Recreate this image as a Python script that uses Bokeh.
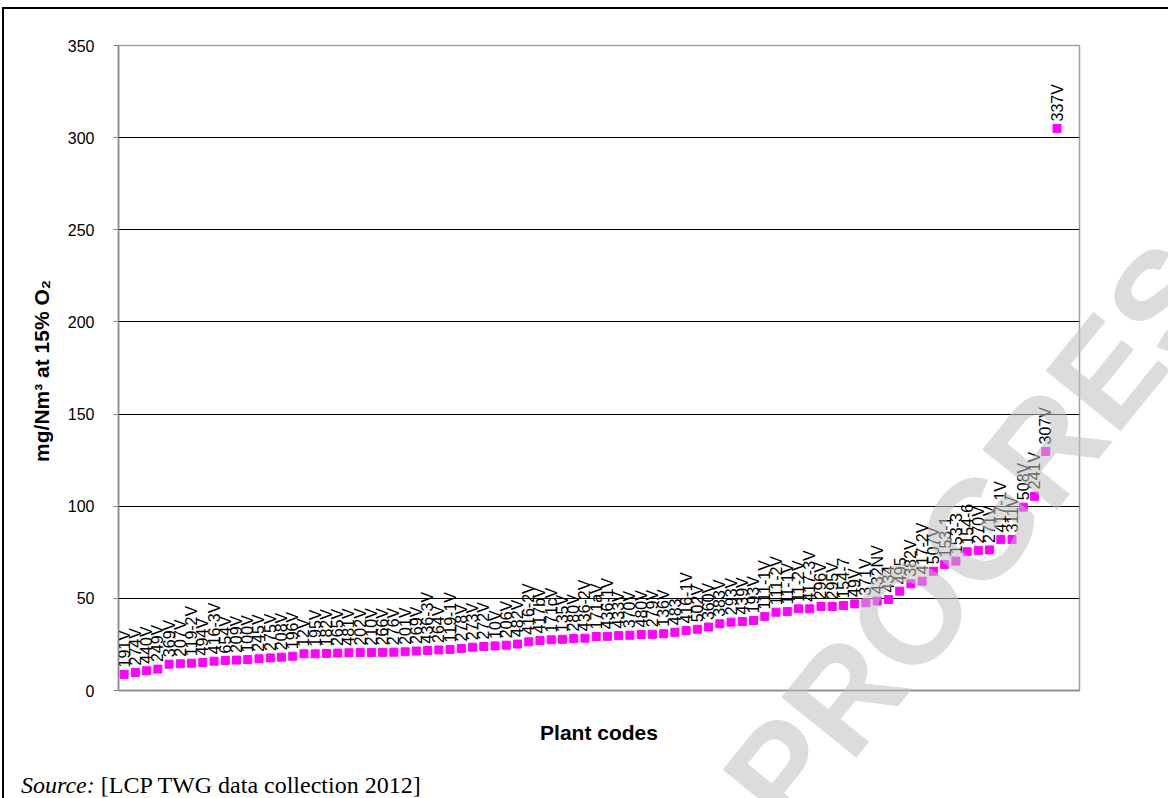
import numpy as np
from bokeh.plotting import figure
from bokeh.layouts import column
from bokeh.models import ColumnDataSource, Range1d, FixedTicker, Div
from bokeh.embed import file_html
from bokeh.resources import INLINE
from bokeh.core.properties import value

# ---- data ----
codes = ["191V", "274V", "440V", "249V", "369V", "207V", "119-2V", "494V", "416-3V", "654V",
         "209V", "100V", "245V", "275V", "208V", "196V", "12V", "195V", "182V", "265V",
         "481V", "202V", "210V", "266V", "276V", "201V", "269V", "436-3V", "264V", "119-1V",
         "278V", "273V", "272V", "10V", "206V", "482V", "416-2V", "417bV", "171cV", "135V",
         "280V", "436-2V", "171aV", "436-1V", "433V", "370V", "480V", "279V", "136V", "483",
         "416-1V", "502V", "360V", "383V", "293V", "439V", "193V", "111-1V", "111-2V", "11-1V",
         "11-2V", "417-3V", "296V", "295V", "154-7", "49V", "371V", "432NV", "434", "495",
         "382V", "417-2V", "507V", "153-1", "153-3", "154-6", "270V", "271V", "417-1V", "311V",
         "508V", "241V", "307V", "337V"]
values = [8.7, 9.8, 10.7, 11.6, 14.3, 14.5, 14.8, 15.2, 15.9, 16.3,
          16.5, 16.8, 17.2, 17.7, 18.1, 18.6, 19.9, 19.9, 20.1, 20.3,
          20.5, 20.6, 20.6, 20.7, 20.8, 21.0, 21.4, 21.7, 22.0, 22.3,
          22.8, 23.5, 23.9, 24.2, 24.6, 25.2, 26.4, 27.1, 27.5, 27.8,
          28.2, 28.4, 29.3, 29.4, 29.8, 30.0, 30.4, 30.5, 30.8, 31.6,
          32.5, 33.2, 34.4, 36.2, 37.1, 37.4, 38.0, 40.2, 42.5, 42.9,
          44.3, 44.3, 45.6, 45.6, 46.1, 47.0, 47.6, 48.5, 49.4, 53.9,
          57.9, 59.3, 64.7, 68.4, 70.2, 75.3, 76.0, 76.3, 81.9, 81.9,
          99.5, 105.4, 129.7, 305.0]
y_ticks = [0, 50, 100, 150, 200, 250, 300, 350]
grid_ticks = [50, 100, 150, 200, 250, 300]
y_label = "mg/Nm\u00b3 at 15%  O\u2082"
x_label = "Plant codes"
source_it = "Source:"
source_txt = "[LCP TWG data collection 2012]"
watermark = "WORK IN PROGRESS"

src = ColumnDataSource(dict(x=list(range(len(codes))), y=values, code=codes))

p = figure(width=1164, height=766, output_backend="svg", toolbar_location=None,
           x_range=Range1d(-0.5, 85.0), y_range=Range1d(0, 350),
           min_border_left=114, min_border_right=89, min_border_top=36, min_border_bottom=85)
p.background_fill_color = "white"
p.border_fill_color = "white"
p.outline_line_color = "#a0a0a0"
p.outline_line_width = 1.5

p.xgrid.visible = False
xa = p.xaxis[0]
xa.ticker = FixedTicker(ticks=[])
xa.axis_line_color = "#868686"
xa.axis_line_width = 1.5
xa.major_tick_line_color = None
xa.minor_tick_line_color = None
xa.major_tick_out = 0
xa.axis_label = x_label
xa.axis_label_text_font = "Liberation Sans"
xa.axis_label_text_font_style = "bold"
xa.axis_label_text_font_size = "21px"
xa.axis_label_text_color = "black"
xa.axis_label_standoff = 30

ya = p.yaxis[0]
ya.ticker = FixedTicker(ticks=y_ticks)
ya.axis_line_color = "#868686"
ya.axis_line_width = 1.5
ya.major_tick_line_color = "#868686"
ya.major_tick_out = 5
ya.major_tick_in = 0
ya.minor_tick_line_color = None
ya.major_label_text_font = "Liberation Sans"
ya.major_label_text_font_size = "16px"
ya.major_label_text_color = "black"
ya.major_label_standoff = 19
ya.axis_label = y_label
ya.axis_label_text_font = "Liberation Sans"
ya.axis_label_text_font_style = "bold"
ya.axis_label_text_font_size = "21px"
ya.axis_label_text_color = "black"
ya.axis_label_standoff = 12

p.ygrid.ticker = FixedTicker(ticks=grid_ticks)
p.ygrid.grid_line_color = "black"
p.ygrid.grid_line_width = 1

p.scatter(x="x", y="y", source=src, marker="square", size=8,
          fill_color="#FF00FF", line_color="#FF00FF")
p.text(x="x", y="y", text="code", source=src, angle=np.pi / 2,
       text_align="left", text_baseline="middle", y_offset=-7,
       text_font=value("Liberation Sans"), text_font_size="16px", text_color="black")

html = (
    '<div style="position:relative; width:1164px; height:23px;">'
    '<div style="position:absolute; left:-4px; top:-775px; width:1168px; height:798px; '
    'overflow:hidden; pointer-events:none; z-index:10;">'
    '<span style="position:absolute; left:279px; top:1272px; font-family:\'Liberation Sans\'; '
    'font-weight:bold; font-size:140px; line-height:140px; white-space:nowrap; '
    'color:rgba(192,192,192,0.55); '
    'transform-origin:0 0; transform:rotate(-51deg);">' + watermark + '</span></div>'
    '<span style="position:absolute; left:12px; top:-6px; font-family:\'Liberation Serif\'; '
    'font-size:24px; line-height:23px; white-space:nowrap; color:black;">'
    '<i>' + source_it + '</i> ' + source_txt + '</span></div>'
)
div = Div(text=html, width=1164, height=23, styles={"overflow": "visible"})

layout = column(p, div, spacing=0,
                styles={"margin-top": "7px", "margin-left": "2px",
                        "border-top": "2px solid black", "border-left": "2px solid black"})

open("out.html", "w").write(file_html(layout, INLINE))
